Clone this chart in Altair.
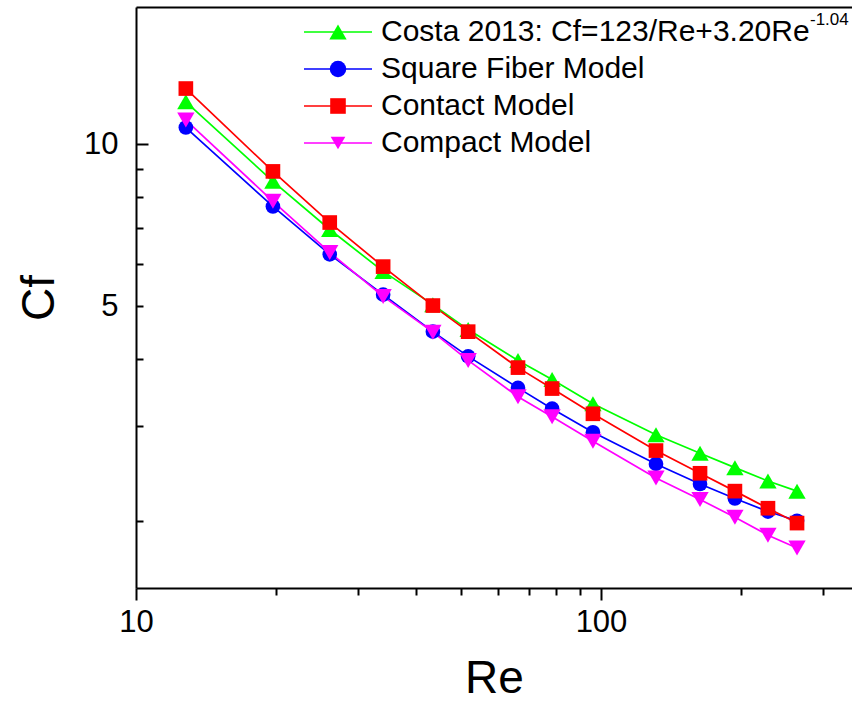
import altair as alt
import pandas as pd

# Reynolds numbers shared by all four series
re_vals = [12.8, 19.7, 26.1, 34.0, 43.5, 51.8, 66.3, 78.5, 96.1, 131.3, 163.3, 194.1, 228.6, 264.0]

# Friction coefficient Cf for each model
cf_costa = [12.0, 8.54, 6.95, 5.81, 5.04, 4.53, 3.97, 3.66, 3.30, 2.89, 2.67, 2.51, 2.37, 2.27]
cf_square = [10.75, 7.67, 6.25, 5.26, 4.49, 4.04, 3.53, 3.23, 2.92, 2.55, 2.34, 2.20, 2.08, 2.00]
cf_contact = [12.7, 8.91, 7.16, 5.93, 5.02, 4.49, 3.85, 3.52, 3.16, 2.70, 2.45, 2.27, 2.11, 1.98]
cf_compact = [11.1, 7.84, 6.30, 5.22, 4.48, 3.97, 3.40, 3.12, 2.81, 2.40, 2.19, 2.03, 1.88, 1.78]

series_ids = ["costa", "square", "contact", "compact"]
legend_labels = [
    "Costa 2013: Cf=123/Re+3.20Re",
    "Square Fiber Model",
    "Contact Model",
    "Compact Model",
]
legend_superscripts = ["-1.04", "", "", ""]
series_values = [cf_costa, cf_square, cf_contact, cf_compact]
series_colors = ["#00ff00", "#0000ff", "#ff0000", "#ff00ff"]
series_shapes = ["triangle-up", "circle", "square", "triangle-down"]
marker_sizes = [300, 215, 215, 300]

x_ticks = [10, 20, 30, 40, 50, 60, 70, 80, 90, 100, 200, 300]
y_ticks = [2, 3, 4, 5, 6, 7, 8, 9, 10]

rows = []
for sid, vals in zip(series_ids, series_values):
    for r, c in zip(re_vals, vals):
        rows.append({"Re": r, "Cf": c, "series": sid})
df = pd.DataFrame(rows)

legend_df = pd.DataFrame({
    "series": series_ids,
    "label": legend_labels,
    "sup": legend_superscripts,
})

W, H = 716, 581
FONT = "Liberation Sans"

x_scale = alt.Scale(type="log", domain=[10, 346.6], nice=False)
y_scale = alt.Scale(type="log", domain=[1.5, 18], nice=False)
color_scale = alt.Scale(domain=series_ids, range=series_colors)

x_axis = alt.Axis(
    values=x_ticks,
    labelExpr="datum.value == 10 ? '10' : datum.value == 100 ? '100' : ''",
    tickSize={"condition": {"test": "datum.value == 10 || datum.value == 100", "value": 12}, "value": 7},
    tickWidth=2, tickColor="black",
    domainWidth=2, domainColor="black",
    labelFontSize=31, labelColor="black", labelPadding=7, labelFlush=False,
    title="Re", titleFontSize=46, titleFontWeight="normal", titleColor="black", titlePadding=19,
    grid=False,
)
y_axis_left = alt.Axis(
    values=y_ticks,
    labelExpr="datum.value == 10 ? '10' : datum.value == 5 ? '5' : ''",
    ticks=False,
    domainWidth=2, domainColor="black",
    labelFontSize=31, labelColor="black", labelPadding=18, labelFlush=False,
    title="Cf", titleFontSize=46, titleFontWeight="normal", titleColor="black", titlePadding=20,
    grid=False,
)
# inward ticks on the left edge
y_axis_inner = alt.Axis(
    orient="right", offset=-W,
    values=y_ticks, labels=False, domain=False, title=None, grid=False,
    tickSize={"condition": {"test": "datum.value == 10", "value": 12}, "value": 7},
    tickWidth=2, tickColor="black",
)
# frame line along the top
x_axis_top = alt.Axis(
    orient="top", labels=False, ticks=False, title=None, grid=False,
    domainWidth=2, domainColor="black",
)

base = alt.Chart(df)

lines = base.mark_line(strokeWidth=1.7).encode(
    x=alt.X("Re:Q", scale=x_scale, axis=x_axis),
    y=alt.Y("Cf:Q", scale=y_scale, axis=y_axis_left),
    color=alt.Color("series:N", scale=color_scale, legend=None),
    order="Re:Q",
)

point_layers = []
for i, (sid, col, shp, sz) in enumerate(zip(series_ids, series_colors, series_shapes, marker_sizes)):
    pl = base.transform_filter(alt.datum.series == sid).mark_point(
        filled=True, shape=shp, size=sz, color=col, opacity=1
    ).encode(
        x=alt.X("Re:Q", scale=x_scale, axis=x_axis_top if i == 0 else None),
        y=alt.Y("Cf:Q", scale=y_scale, axis=y_axis_inner if i == 0 else None),
    )
    point_layers.append(pl)

# legend block in the upper right: one row per series
leg = alt.Chart(legend_df)
leg_y = alt.Y(
    "series:N",
    scale=alt.Scale(type="point", domain=series_ids, range=[25, 136], padding=0),
    axis=None,
)
leg_lines = leg.mark_rule(strokeWidth=1.7).encode(
    x=alt.value(168), x2=alt.value(236), y=leg_y,
    color=alt.Color("series:N", scale=color_scale, legend=None),
)
leg_marks = leg.mark_point(filled=True, opacity=1).encode(
    x=alt.value(202), y=leg_y,
    color=alt.Color("series:N", scale=color_scale, legend=None),
    shape=alt.Shape("series:N", scale=alt.Scale(domain=series_ids, range=series_shapes), legend=None),
    size=alt.Size("series:N", scale=alt.Scale(domain=series_ids, range=marker_sizes), legend=None),
)
leg_text = leg.mark_text(
    align="left", baseline="middle", fontSize=30, font=FONT, color="black"
).encode(x=alt.value(245), y=leg_y, text="label:N")
leg_sup = leg.mark_text(
    align="left", baseline="middle", fontSize=17, font=FONT, color="black", dy=-12
).encode(x=alt.value(674), y=leg_y, text="sup:N")

chart = alt.layer(
    lines, *point_layers, leg_lines, leg_marks, leg_text, leg_sup
).resolve_scale(
    y="independent"
).resolve_axis(
    x="independent", y="independent"
).properties(
    width=W, height=H,
    autosize=alt.AutoSizeParams(type="none"),
    padding={"left": 136, "top": 7, "right": 0, "bottom": 116},
).configure(
    font=FONT,
).configure_view(
    stroke=None,
)

chart.save("out.html", embed_options={"renderer": "svg", "actions": False})
